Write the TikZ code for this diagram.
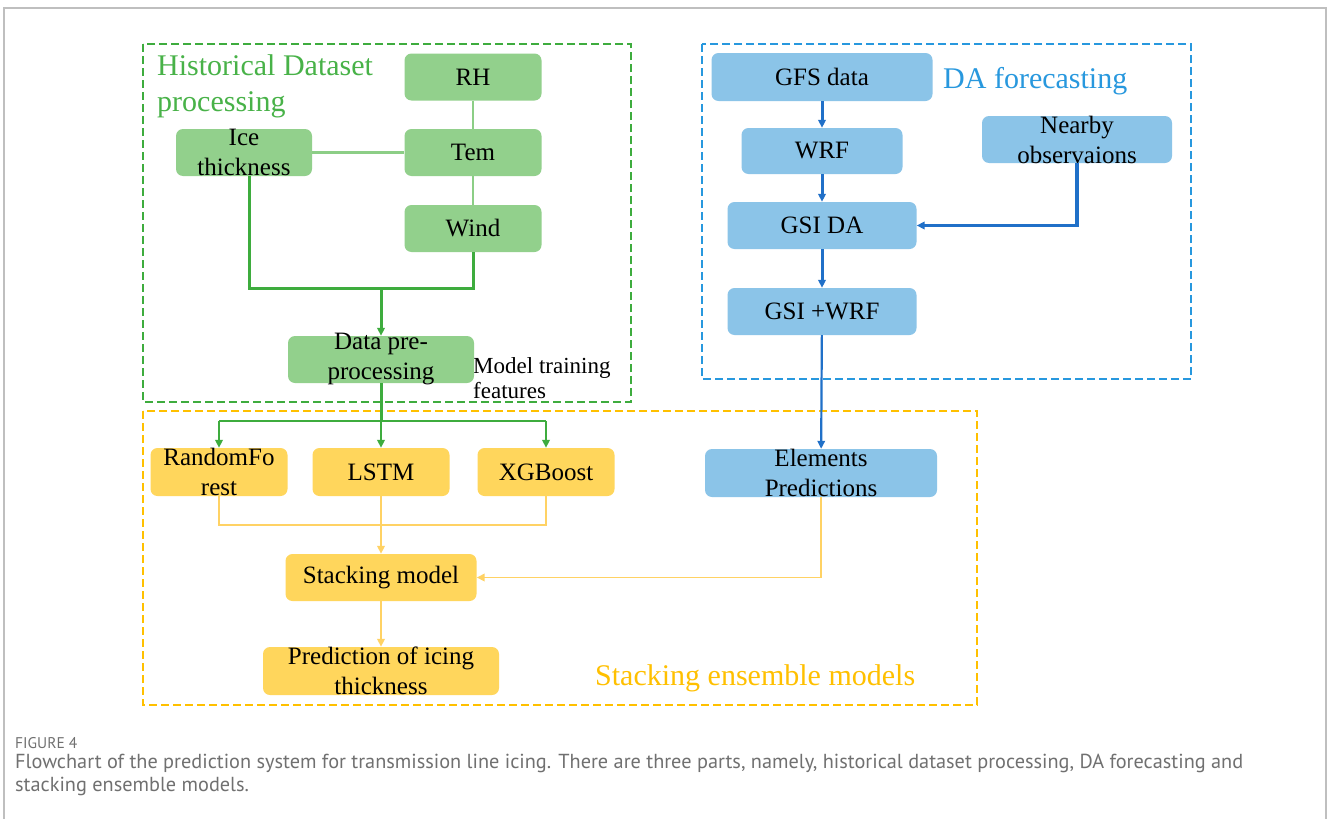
\documentclass[tikz,border=0pt]{standalone}
\usepackage{fontspec}
\setmainfont{Liberation Serif}
\newfontfamily\capfont{PT Sans}
\usetikzlibrary{arrows.meta}
\definecolor{gfill}{RGB}{146,208,140}
\definecolor{gline}{RGB}{62,172,62}
\definecolor{glight}{RGB}{140,206,134}
\definecolor{gtext}{RGB}{72,178,72}
\definecolor{bfill}{RGB}{139,196,232}
\definecolor{bline}{RGB}{32,112,200}
\definecolor{bdash}{RGB}{40,152,222}
\definecolor{yfill}{RGB}{255,214,92}
\definecolor{ydash}{RGB}{255,192,0}
\definecolor{yline}{RGB}{255,210,100}
\definecolor{captxt}{RGB}{112,112,112}
\newsavebox\capbox
\newlength\capw
\begin{document}
\sbox\capbox{\capfont\fontsize{19}{19}\selectfont Flowchart of the prediction system for transmission line icing. There are three parts, namely, historical dataset processing, DA forecasting and}%
\setlength\capw{\wd\capbox}%
\pgfmathsetmacro\capfs{1228/\capw*19}%
\begin{tikzpicture}[x=1pt,y=-1pt,
  box/.style={rounded corners=7pt, minimum height=47pt, inner sep=0pt},
  gbox/.style={box, fill=gfill},
  bbox/.style={box, fill=bfill},
  ybox/.style={box, fill=yfill},
  lbl/.style={font=\fontsize{25}{30}\selectfont, align=center, inner sep=0pt, text=black},
  ttl/.style={font=\fontsize{30}{36}\selectfont, inner sep=0pt, anchor=base west},
  frame/.style={line width=2.8pt, dash pattern=on 8pt off 4pt},
  tip/.style={-{Triangle[length=8pt,width=7.5pt]}},
  gln/.style={gline, line width=3pt},
  glt/.style={glight, line width=2.8pt},
  bln/.style={bline, line width=3pt},
  yln/.style={yline, line width=2.4pt},
  captxtstyle/.style={inner sep=0pt, anchor=base west, text=captxt}
]
\fill[white] (0,0) rectangle (1328,819);
\useasboundingbox (0,0) rectangle (1328,819);
\draw[black!25, line width=1.2pt] (4,819) -- (4,8) -- (1326,8) -- (1326,819);

% dashed frames
\draw[frame, gline] (143,44) rectangle (631,402);
\draw[frame, bdash] (702,44) rectangle (1191,379);
\draw[frame, ydash] (143,411) rectangle (977,705);

% titles
\node[ttl, text=gtext] (t1a) at (157,75) {Historical Dataset};
\node[ttl, text=gtext] (t1b) at (157,111) {processing};
\node[ttl, text=bdash] (t2) at (943,88) {DA forecasting};
\node[ttl, text=ydash] (t3) at (595,685) {Stacking ensemble models};
\node[inner sep=0pt, anchor=base west, font=\fontsize{23}{25}\selectfont] (mt1) at (473,373) {Model training};
\node[inner sep=0pt, anchor=base west, font=\fontsize{23}{25}\selectfont] (mt2) at (473,398) {features};

% green boxes
\node[gbox, minimum width=137pt, label={[lbl]center:RH}] (rh) at (473,77) {};
\node[gbox, minimum width=137pt, label={[lbl]center:Tem}] (tem) at (473,152.5) {};
\node[gbox, minimum width=137pt, label={[lbl]center:Wind}] (wind) at (473,228.5) {};
\node[gbox, minimum width=136pt, label={[lbl]center:Ice\\thickness}] (ice) at (244,152.5) {};
\node[gbox, minimum width=186pt, label={[lbl]center:Data pre-\\processing}] (pre) at (381,359.5) {};

% blue boxes
\node[bbox, minimum width=221pt, minimum height=48pt, label={[lbl]center:GFS data}] (gfs) at (822,77) {};
\node[bbox, minimum width=161pt, minimum height=46pt, label={[lbl]center:WRF}] (wrf) at (822,151) {};
\node[bbox, minimum width=190pt, label={[lbl]center:Nearby\\observaions}] (near) at (1077,139.5) {};
\node[bbox, minimum width=189pt, label={[lbl]center:GSI DA}] (gsida) at (822,225.5) {};
\node[bbox, minimum width=189pt, label={[lbl]center:GSI +WRF}] (gsiwrf) at (822,311.5) {};
\node[bbox, minimum width=232pt, minimum height=48pt, label={[lbl]center:Elements\\Predictions}] (elem) at (821,473) {};

% yellow boxes
\node[ybox, minimum width=137pt, minimum height=48pt, label={[lbl]center:RandomFo\\rest}] (rf) at (219,472) {};
\node[ybox, minimum width=137pt, minimum height=48pt, label={[lbl]center:LSTM}] (lstm) at (381,472) {};
\node[ybox, minimum width=137pt, minimum height=48pt, label={[lbl]center:XGBoost}] (xgb) at (546,472) {};
\node[ybox, minimum width=191pt, label={[lbl]center:Stacking model}] (stack) at (381,577.5) {};
\node[ybox, minimum width=236pt, minimum height=48pt, label={[lbl]center:Prediction of icing\\thickness}] (pred) at (381,671) {};

% green connectors
\draw[glt] (rh) -- (tem);
\draw[glt] (tem) -- (wind);
\draw[glt] (ice) -- (tem);
\coordinate (j1) at (381,288);
\draw[gln] ([xshift=5pt]ice.south) |- (j1) -| (wind.south);
\draw[gln, tip] (j1) -- (pre.north);
\coordinate (j2) at (381,421);
\draw[gln] (pre.south) -- (j2);
\draw[gln, line width=2.5pt] (rf.north |- j2) -- (xgb.north |- j2);
\draw[gln, line width=2.5pt, tip] (rf.north |- j2) -- (rf.north);
\draw[gln, line width=2.5pt, tip] (j2) -- (lstm.north);
\draw[gln, line width=2.5pt, tip] (xgb.north |- j2) -- (xgb.north);

% blue connectors
\draw[bln, tip] (gfs) -- (wrf);
\draw[bln, tip] (wrf) -- (gsida);
\draw[bln, tip] (gsida) -- (gsiwrf);
\draw[bln, line width=2.2pt, tip] (gsiwrf) -- (elem);
\draw[bln, line width=3.4pt, tip] (near.south) |- (gsida.east);

% yellow connectors
\coordinate (j3) at (381,525);
\draw[yln] (rf.south) |- (j3) -| (xgb.south);
\draw[yln, line width=1.8pt, tip] (lstm) -- (stack);
\draw[yln, line width=1.8pt, tip] (stack) -- (pred);
\draw[yln, line width=1.8pt, tip] (elem.south) |- (stack.east);

% caption
\node[captxtstyle, font=\capfont\fontsize{15.5}{16}\selectfont] (fig) at (15,748) {FIGURE 4};
\node[captxtstyle, font=\capfont\fontsize{\capfs}{\capfs}\selectfont] (cap1) at (15,768) {Flowchart of the prediction system for transmission line icing. There are three parts, namely, historical dataset processing, DA forecasting and};
\node[captxtstyle, font=\capfont\fontsize{\capfs}{\capfs}\selectfont] (cap2) at (15,791) {stacking ensemble models.};
\end{tikzpicture}
\end{document}
